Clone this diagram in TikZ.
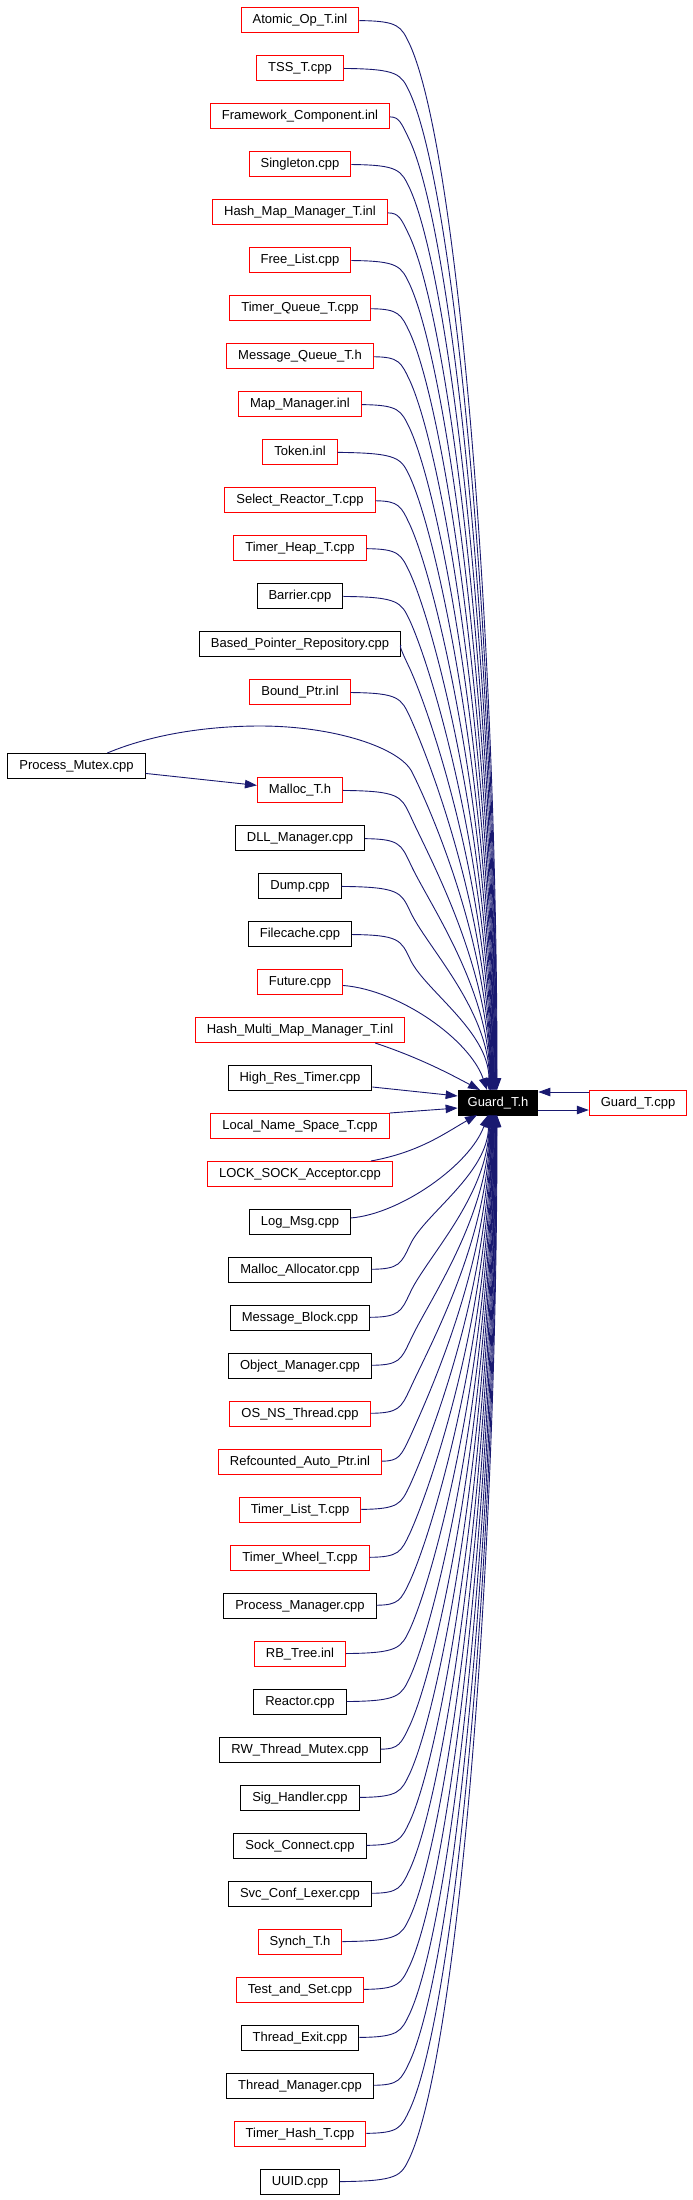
\documentclass[tikz,border=0pt]{standalone}
\usepackage{fontspec}
\setmainfont{Liberation Sans}
\usetikzlibrary{arrows.meta}
\definecolor{edgeblue}{HTML}{191970}
\definecolor{boxred}{HTML}{FF0000}
\begin{document}
\begin{tikzpicture}[x=1pt,y=-1pt,
  box/.style={draw, line width=1pt, minimum height=25pt, inner xsep=11.5pt, inner ysep=0pt,
    font=\fontsize{13}{15}\selectfont, text height=9.5pt, text depth=2.5pt},
  edge/.style={draw=edgeblue, line width=0.9pt, -{Triangle[length=12pt,width=8.5pt]}},
]
\useasboundingbox (0,0) rectangle (693,2200);

% left column
\foreach \i/\lab/\col in {
 1/Atomic\_Op\_T.inl/boxred,
 2/TSS\_T.cpp/boxred,
 3/Framework\_Component.inl/boxred,
 4/Singleton.cpp/boxred,
 5/Hash\_Map\_Manager\_T.inl/boxred,
 6/Free\_List.cpp/boxred,
 7/Timer\_Queue\_T.cpp/boxred,
 8/Message\_Queue\_T.h/boxred,
 9/Map\_Manager.inl/boxred,
 10/Token.inl/boxred,
 11/Select\_Reactor\_T.cpp/boxred,
 12/Timer\_Heap\_T.cpp/boxred,
 13/Barrier.cpp/black,
 14/Based\_Pointer\_Repository.cpp/black,
 15/Bound\_Ptr.inl/boxred,
 16/Malloc\_T.h/boxred,
 17/DLL\_Manager.cpp/black,
 18/Dump.cpp/black,
 19/Filecache.cpp/black,
 20/Future.cpp/boxred,
 21/Hash\_Multi\_Map\_Manager\_T.inl/boxred,
 22/High\_Res\_Timer.cpp/black,
 23/Local\_Name\_Space\_T.cpp/boxred,
 24/LOCK\_SOCK\_Acceptor.cpp/boxred,
 25/Log\_Msg.cpp/black,
 26/Malloc\_Allocator.cpp/black,
 27/Message\_Block.cpp/black,
 28/Object\_Manager.cpp/black,
 29/OS\_NS\_Thread.cpp/boxred,
 30/Refcounted\_Auto\_Ptr.inl/boxred,
 31/Timer\_List\_T.cpp/boxred,
 32/Timer\_Wheel\_T.cpp/boxred,
 33/Process\_Manager.cpp/black,
 34/RB\_Tree.inl/boxred,
 35/Reactor.cpp/black,
 36/RW\_Thread\_Mutex.cpp/black,
 37/Sig\_Handler.cpp/black,
 38/Sock\_Connect.cpp/black,
 39/Svc\_Conf\_Lexer.cpp/black,
 40/Synch\_T.h/boxred,
 41/Test\_and\_Set.cpp/boxred,
 42/Thread\_Exit.cpp/black,
 43/Thread\_Manager.cpp/black,
 44/Timer\_Hash\_T.cpp/boxred,
 45/UUID.cpp/black}{
  \pgfmathsetmacro\yy{(\i<16) ? 20+48*(\i-1) : 790+48*(\i-16)}
  \node[box, draw=\col] (n\i) at (300,\yy) {\lab};
}

\node[box, draw=black] (pm) at (76.5,766) {Process\_Mutex.cpp};
\node[box, draw=black, fill=black, text=white, inner xsep=9.5pt] (guard) at (498,1102.5) {Guard\_T.h};
\node[box, draw=boxred] (gcpp) at (638,1103) {Guard\_T.cpp};

% upper edges
\foreach \i in {1,...,19}{
  \pgfmathsetmacro\yy{(\i<16) ? 20+48*(\i-1) : 790+48*(\i-16)}
  \pgfmathsetmacro\ky{\yy+25}
  \pgfmathsetmacro\LL{1090-\ky}
  \pgfmathsetmacro\aa{0.08*\LL+20}
  \pgfmathsetmacro\bb{0.45*\LL}
  \pgfmathsetmacro\ex{497-0.45*(\i-1)}
  \draw[edge] (n\i) .. controls (399,\yy+1) and (401,\yy+6) .. (410,\ky)
     .. controls (410+0.45*\aa,\ky+\aa) and (\ex,1090-\bb) .. (\ex,1090);
}
% lower edges
\foreach \i in {26,...,45}{
  \pgfmathsetmacro\yy{790+48*(\i-16)}
  \pgfmathsetmacro\ky{\yy-25}
  \pgfmathsetmacro\LL{\ky-1115}
  \pgfmathsetmacro\aa{0.08*\LL+20}
  \pgfmathsetmacro\bb{0.45*\LL}
  \pgfmathsetmacro\ex{497-0.45*(45-\i)}
  \draw[edge] (n\i) .. controls (399,\yy-1) and (401,\yy-6) .. (410,\ky)
     .. controls (410+0.45*\aa,\ky-\aa) and (\ex,1115+\bb) .. (\ex,1115);
}
% edges close to Guard_T.h
\draw[edge] (n20) .. controls (400,990) and (470,1040) .. (487,1090);
\draw[edge] ([xshift=-30pt]n21.south east) .. controls (420,1058) and (450,1074) .. (480,1090);
\draw[edge] ([yshift=-9pt]n22.east) -- ([yshift=6.5pt]guard.west);
\draw[edge] (n23.north east) -- ([yshift=-5.5pt]guard.west);
\draw[edge] (n24) .. controls (420,1152) and (445,1133) .. (477,1115);
\draw[edge] (n25) .. controls (400,1214) and (470,1165) .. (488,1115);

% Process_Mutex
\draw[edge] (pm) -- (n16);
\draw[edge] (pm) .. controls (150,735) and (205,726) .. (260,726)
   .. controls (335,726) and (400,748) .. (412,772)
   .. controls (432,812) and (490.5,947) .. (490.5,1090);

% Guard_T.cpp
\draw[edge] ([yshift=11pt]gcpp.west) -- ([yshift=10.5pt]guard.east);
\draw[edge] ([yshift=-7.5pt]guard.east) -- ([yshift=-7pt]gcpp.west);
\end{tikzpicture}
\end{document}
